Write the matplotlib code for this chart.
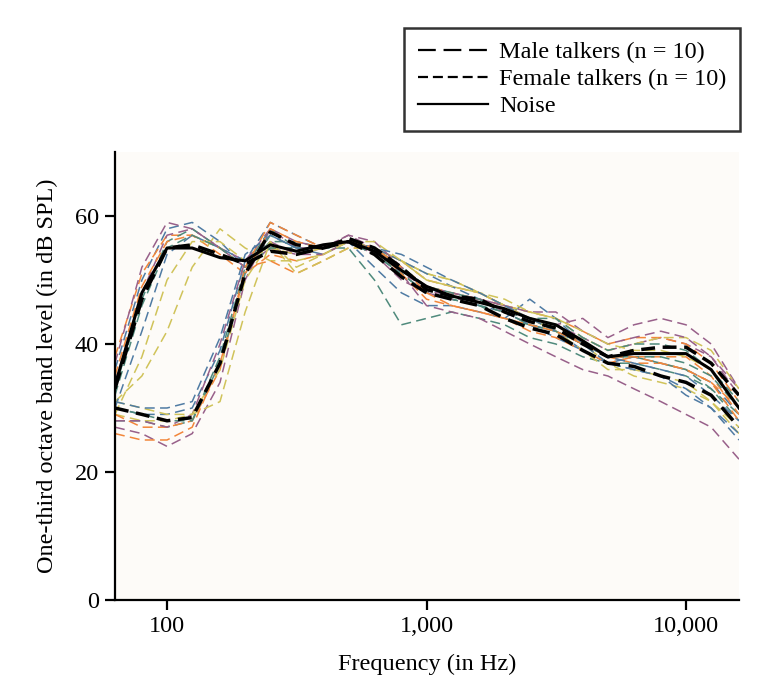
import numpy as np
import matplotlib
matplotlib.use('Agg')
import matplotlib.pyplot as plt
from matplotlib.lines import Line2D
from matplotlib.ticker import FixedLocator, NullLocator

# --------------------------
# 数据（1/3 倍频程中心频率）
# --------------------------
freqs = [63, 80, 100, 125, 160, 200, 250, 315, 400, 500, 630, 800, 1000, 1250,
         1600, 2000, 2500, 3150, 4000, 5000, 6300, 8000, 10000, 12500, 16000]

male_talkers = [
    [36, 50, 58, 59, 56, 52, 55, 55, 54, 56, 55, 52, 49, 47, 46, 45, 43, 42, 39, 37, 38, 37, 36, 34, 29],
    [38, 51, 57, 57, 54, 51, 54, 53, 54, 56, 55, 53, 50, 49, 48, 46, 44, 43, 40, 38, 37, 37, 36, 34, 30],
    [34, 48, 57, 58, 55, 53, 56, 54, 55, 56, 54, 51, 49, 48, 47, 45, 44, 43, 41, 39, 40, 41, 40, 38, 33],
    [31, 35, 42, 52, 58, 55, 53, 53, 54, 56, 55, 53, 51, 50, 48, 46, 44, 42, 40, 37, 35, 34, 33, 31, 27],
    [33, 47, 56, 58, 55, 52, 56, 56, 55, 55, 50, 43, 44, 45, 44, 43, 41, 40, 38, 37, 37, 36, 35, 33, 29],
    [30, 42, 54, 57, 55, 53, 57, 55, 55, 56, 52, 48, 46, 46, 45, 44, 47, 44, 40, 37, 36, 35, 33, 30, 25],
    [35, 49, 56, 57, 55, 52, 53, 51, 53, 55, 55, 52, 49, 48, 47, 46, 45, 44, 42, 40, 41, 41, 40, 37, 31],
    [37, 52, 59, 58, 55, 52, 55, 54, 54, 56, 54, 50, 48, 48, 47, 46, 44, 43, 44, 41, 43, 44, 43, 40, 33],
    [29, 38, 50, 56, 56, 53, 55, 54, 55, 56, 55, 53, 51, 50, 48, 46, 44, 42, 39, 36, 36, 35, 34, 31, 26],
    [32, 46, 55, 57, 55, 52, 55, 55, 55, 56, 54, 51, 48, 47, 46, 44, 43, 42, 40, 38, 38, 37, 36, 33, 28],
]

female_talkers = [
    [27, 26, 24, 26, 34, 50, 58, 56, 55, 57, 55, 51, 46, 45, 44, 42, 40, 38, 36, 35, 33, 31, 29, 27, 22],
    [29, 28, 28, 29, 31, 45, 56, 51, 53, 55, 55, 53, 50, 49, 48, 46, 45, 44, 41, 39, 40, 41, 41, 39, 33],
    [28, 28, 27, 28, 38, 52, 58, 55, 55, 56, 54, 51, 48, 47, 46, 45, 44, 44, 41, 39, 40, 40, 39, 36, 31],
    [30, 29, 29, 30, 39, 53, 59, 57, 55, 56, 55, 53, 51, 49, 47, 45, 43, 41, 39, 37, 36, 35, 32, 30, 26],
    [29, 27, 27, 28, 36, 52, 59, 57, 55, 56, 55, 51, 47, 46, 45, 44, 42, 41, 39, 37, 38, 38, 38, 35, 29],
    [28, 28, 27, 29, 40, 53, 58, 55, 55, 57, 56, 52, 48, 47, 47, 46, 45, 45, 42, 40, 41, 42, 41, 38, 32],
    [31, 30, 29, 29, 36, 50, 56, 52, 54, 56, 56, 53, 50, 49, 48, 47, 45, 44, 42, 40, 39, 39, 38, 36, 30],
    [30, 29, 28, 28, 37, 51, 57, 55, 55, 56, 55, 52, 49, 48, 47, 45, 43, 42, 40, 38, 38, 38, 37, 35, 30],
    [31, 30, 30, 31, 41, 54, 57, 55, 55, 56, 55, 54, 52, 50, 48, 46, 44, 42, 40, 38, 37, 36, 35, 32, 28],
    [26, 25, 25, 27, 37, 51, 58, 56, 55, 56, 55, 52, 48, 46, 45, 44, 43, 42, 40, 38, 38, 37, 36, 34, 28],
]

male_mean = [33, 47, 55, 55.5, 54, 52.5, 54.5, 54, 55, 56, 54, 50.5, 48, 47, 46, 44,
             42.5, 41.5, 39, 37, 36.5, 35, 34, 32, 27]
female_mean = [30, 29, 28, 28.5, 37, 51, 57.5, 55.5, 55, 56.5, 55, 52, 48.5, 47.5, 47, 45,
               43.5, 42.5, 40, 38, 39, 39.5, 39.5, 37, 32]
noise = [33.5, 48, 55, 55, 53.5, 53, 55.5, 54.5, 55.5, 56, 54.5, 51.5, 49, 47.5, 46.5, 45.5,
         44, 43, 40.5, 38, 38.5, 38.5, 38.5, 36, 30]

x_ticks = [100, 1000, 10000]
x_ticklabels = ['100', '1,000', '10,000']
y_ticks = [0, 20, 40, 60]

TALKER_COLORS = ['#4f7ba3', '#f2863a', '#98608a', '#d0c35a', '#4f8a7c']

# --------------------------
# 全局绘图规范
# --------------------------
plt.rcParams['font.family'] = ['Liberation Serif', 'DejaVu Serif']
plt.rcParams['font.size'] = 17.5

fig = plt.figure(figsize=(7.68, 6.86), dpi=100)
ax = fig.add_axes([0.1497, 0.1254, 0.8125, 0.653])
ax.set_facecolor('#fdfbf8')

for i, vals in enumerate(male_talkers):
    ax.plot(freqs, vals, color=TALKER_COLORS[i % 5], lw=1.1, dashes=(6.5, 3.5))
for i, vals in enumerate(female_talkers):
    ax.plot(freqs, vals, color=TALKER_COLORS[(i + 2) % 5], lw=1.1, dashes=(6.5, 3.5))

ax.plot(freqs, noise, color='black', lw=2.2)
ax.plot(freqs, male_mean, color='black', lw=2.5, dashes=(5, 2.5))
ax.plot(freqs, female_mean, color='black', lw=2.5, dashes=(4, 2.2))

ax.set_xscale('log')
ax.set_xlim(63, 16000)
ax.set_ylim(0, 70)
ax.xaxis.set_major_locator(FixedLocator(x_ticks))
ax.xaxis.set_minor_locator(NullLocator())
ax.set_xticklabels(x_ticklabels)
ax.set_yticks(y_ticks)

for side in ['top', 'right']:
    ax.spines[side].set_visible(False)
for side in ['left', 'bottom']:
    ax.spines[side].set_linewidth(1.6)
ax.tick_params(direction='out', length=7.5, width=1.6, labelsize=17.5, pad=4)

ax.set_xlabel('Frequency (in Hz)', fontsize=17.5, labelpad=12)
ax.set_ylabel('One-third octave band level (in dB SPL)', fontsize=17.5, labelpad=12)

# 图例（图外右上角）
handles = [
    Line2D([], [], color='black', lw=1.6, dashes=(8, 3.5)),
    Line2D([], [], color='black', lw=1.6, dashes=(4.5, 2.2)),
    Line2D([], [], color='black', lw=1.6),
]
labels = ['Male talkers (n = 10)', 'Female talkers (n = 10)', 'Noise']
leg = fig.legend(handles, labels, loc='upper right', bbox_to_anchor=(0.9635, 0.959),
                 fontsize=17.5, frameon=True, fancybox=False, edgecolor='black',
                 handlelength=2.9, handletextpad=0.45, labelspacing=0.2,
                 borderpad=0.55, borderaxespad=0)
leg.get_frame().set_linewidth(1.8)

plt.savefig('out.png', dpi=100)
plt.close()
